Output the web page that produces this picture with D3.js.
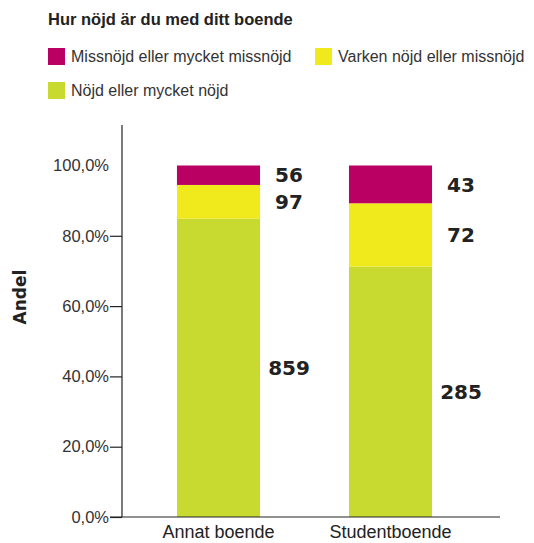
<!DOCTYPE html>
<html>
<head>
<meta charset="utf-8">
<script src="https://cdn.jsdelivr.net/npm/d3@7"></script>
<style>
  body { margin: 0; background: #fff; }
  text { font-family: "Liberation Sans", Arial, sans-serif; fill: #222; }
</style>
</head>
<body>
<svg id="chart" width="534" height="543"></svg>
<script>
    // data
    var categories = ["Annat boende", "Studentboende"];
    var seriesNames = ["Nöjd eller mycket nöjd", "Varken nöjd eller missnöjd", "Missnöjd eller mycket missnöjd"];
    var nojd = [859, 285];
    var varken = [97, 72];
    var missnojd = [56, 43];
    var yTicks = [0, 0.2, 0.4, 0.6, 0.8, 1.0];
    var colors = ["#c8d92f", "#f0e91b", "#bb0063"];

    var svg = d3.select("#chart");

    var x = d3.scaleBand()
        .domain(categories)
        .range([132.5, 476.5])
        .paddingInner(0.517)
        .paddingOuter(0.2585);

    var y = d3.scaleLinear().domain([0, 1]).range([517, 165.5]);

    // stacked shares
    var rows = categories.map(function(c, i){
        var tot = nojd[i] + varken[i] + missnojd[i];
        return {cat: c, vals: [nojd[i], varken[i], missnojd[i]], tot: tot};
    });
    var segs = [];
    rows.forEach(function(r){
        var acc = 0;
        r.vals.forEach(function(v, k){
            segs.push({cat: r.cat, k: k, v: v, y0: acc, y1: acc + v / r.tot});
            acc += v / r.tot;
        });
    });

    svg.selectAll("rect.seg")
        .data(segs).enter().append("rect")
        .attr("class", "seg")
        .attr("x", function(d){ return x(d.cat); })
        .attr("width", x.bandwidth())
        .attr("y", function(d){ return y(d.y1); })
        .attr("height", function(d){ return y(d.y0) - y(d.y1); })
        .attr("fill", function(d){ return colors[d.k]; });

    // value labels
    svg.selectAll("text.val")
        .data(segs).enter().append("text")
        .attr("class", "val")
        .attr("x", function(d){ return x(d.cat) + x.bandwidth() + 29; })
        .attr("y", function(d){ return y((d.y0 + d.y1) / 2); })
        .attr("dy", "0.36em")
        .attr("text-anchor", "middle")
        .style("font-family", "'DejaVu Sans', sans-serif")
        .style("font-weight", "bold")
        .style("font-size", "20px")
        .style("fill", "#222")
        .text(function(d){ return d.v; });

    // y axis
    var yAxis = svg.append("g")
        .attr("transform", "translate(122,0)")
        .call(d3.axisLeft(y).tickValues(yTicks).tickSize(12).tickPadding(1)
            .tickFormat(function(d){ return (d * 100).toFixed(1).replace(".", ",") + "%"; }));
    yAxis.select(".domain").remove();
    yAxis.selectAll(".tick line").attr("stroke", "#222").attr("stroke-width", 1.2)
        .filter(function(d){ return d === 1; }).remove();
    yAxis.selectAll(".tick text")
        .style("font-size", "16.5px").style("fill", "#333");

    svg.append("line").attr("x1", 122).attr("x2", 122).attr("y1", 125).attr("y2", 517)
        .attr("stroke", "#222").attr("stroke-width", 1.2);
    svg.append("line").attr("x1", 110).attr("x2", 500).attr("y1", 517).attr("y2", 517)
        .attr("stroke", "#222").attr("stroke-width", 1.2);

    // x labels
    svg.selectAll("text.xl")
        .data(categories).enter().append("text")
        .attr("class", "xl")
        .attr("x", function(d){ return x(d) + x.bandwidth() / 2; })
        .attr("y", 538)
        .attr("text-anchor", "middle")
        .style("font-size", "18px")
        .text(function(d){ return d; });

    // y title
    svg.append("text")
        .attr("transform", "translate(26,297) rotate(-90)")
        .attr("text-anchor", "middle")
        .style("font-family", "'DejaVu Sans', sans-serif")
        .style("font-weight", "bold")
        .style("font-size", "17px")
        .text("Andel");

    // legend
    svg.append("text").attr("x", 48).attr("y", 25)
        .style("font-weight", "bold").style("font-size", "16.5px")
        .text("Hur nöjd är du med ditt boende");

    var legendItems = [
        {name: seriesNames[2], c: colors[2], lx: 48, ly: 48},
        {name: seriesNames[1], c: colors[1], lx: 315, ly: 48},
        {name: seriesNames[0], c: colors[0], lx: 48, ly: 82}
    ];
    var lg = svg.selectAll("g.lg").data(legendItems).enter().append("g")
        .attr("transform", function(d){ return "translate(" + d.lx + "," + d.ly + ")"; });
    lg.append("rect").attr("width", 17).attr("height", 17).attr("fill", function(d){ return d.c; });
    lg.append("text").attr("x", 23).attr("y", 14)
        .style("font-size", "16px").style("fill", "#333")
        .text(function(d){ return d.name; });
</script>
</body>
</html>
